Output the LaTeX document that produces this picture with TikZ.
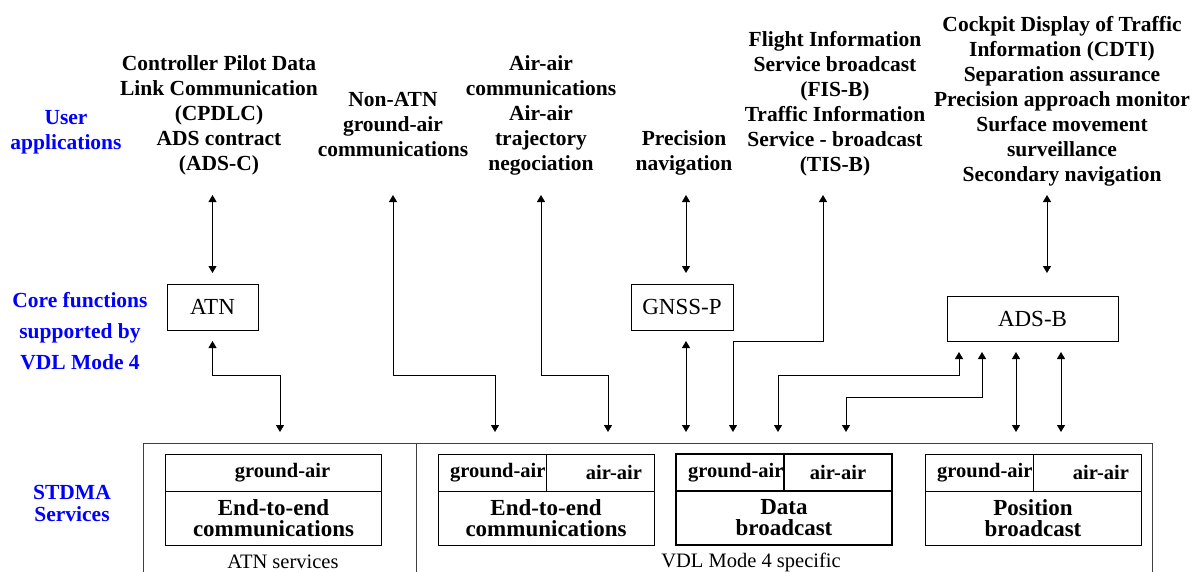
\documentclass[tikz,border=0pt]{standalone}
\usepackage{fontspec}
\setmainfont{Liberation Serif}
\usetikzlibrary{arrows.meta}
\tikzset{
  lbl/.style={align=center,inner sep=0pt,text=blue,font=\fontsize{21.5}{25}\selectfont\bfseries},
  app/.style={align=center,inner sep=0pt,font=\fontsize{21.5}{25}\selectfont\bfseries},
  core/.style={draw,line width=1pt,inner sep=0pt,outer sep=0pt,font=\fontsize{23}{26}\selectfont},
  hcell/.style={draw,line width=1pt,minimum width=108pt,minimum height=37pt,inner sep=0pt,outer sep=0pt,font=\fontsize{20.5}{24}\selectfont\bfseries},
  gcell/.style={hcell,text width=107pt,align=right},
  body/.style={draw,line width=1pt,minimum width=216pt,minimum height=54pt,inner sep=0pt,outer sep=0pt,align=center,font=\fontsize{23}{21}\selectfont\bfseries},
  svc/.style={inner sep=0pt,font=\fontsize{20.5}{24}\selectfont},
  link/.style={{Triangle[length=7pt,width=8pt]}-{Triangle[length=7pt,width=8pt]},line width=1pt},
}
\begin{document}
\begin{tikzpicture}[x=1pt,y=-1pt]
\useasboundingbox (0,0) rectangle (1198,572);

% to write layer names
\node [lbl] (userapp) at (66,132.5) {User\\applications};
\node [lbl,font=\fontsize{21.5}{31}\selectfont\bfseries] (corefn) at (80,331) {Core functions\\supported by\\VDL Mode 4};
\node [lbl,font=\fontsize{21.5}{22}\selectfont\bfseries] (stdma) at (72,503) {STDMA\\Services};

%User applications:
\node [app] (cpdlc) at (219,115) {Controller Pilot Data\\Link Communication\\(CPDLC)\\ADS contract\\(ADS-C)};
\node [app] (nonatn) at (393,125) {Non-ATN\\ground-air\\communications};
\node [app] (airair) at (541,115) {Air-air\\communications\\Air-air\\trajectory\\negociation};
\node [app] (precnav) at (684,153) {Precision\\navigation};
\node [app] (fisb) at (835,104) {Flight Information\\Service broadcast\\(FIS-B)\\Traffic Information\\Service - broadcast\\(TIS-B)};
\node [app] (cdti) at (1062,101.5) {Cockpit Display of Traffic\\Information (CDTI)\\Separation assurance\\Precision approach monitor\\Surface movement\\surveillance\\Secondary navigation};

%Core functions:
\node [core,minimum width=91pt,minimum height=46pt] (atn) at (212.5,307) {ATN};
\node [core,minimum width=102pt,minimum height=46pt] (gnss) at (682,307) {GNSS-P};
\node [core,minimum width=171pt,minimum height=45pt] (adsb) at (1032.5,318.5) {ADS-B};

% to draw the services frame
\draw [line width=0.8pt,black!75] (143,572) |- (1152,443) -- (1152,572);
\draw [line width=0.8pt,black!75] (416,443) -- (416,572);
\node [svc] (atnsvc) at (283,562) {ATN services};
\node [svc] (vdlsvc) at (751,562) {VDL Mode 4 specific};

%STDMA services:
\node [body] (e2eatn) at (273.5,518) {End-to-end\\communications};
\node [hcell,minimum width=216pt,anchor=south] (ga-atn) at (e2eatn.north) {\hspace*{18pt}ground-air};

\node [body] (e2evdl) at (546,518) {End-to-end\\communications};
\node [gcell,anchor=south west] (ga-vdl) at (e2evdl.north west) {ground-air};
\node [hcell,anchor=south east,text width=84pt,align=right] (aa-vdl) at (e2evdl.north east) {air-air};

\node [body,line width=1.6pt] (databc) at (784,518) {Data\\broadcast};
\node [gcell,line width=1.6pt,anchor=south west] (ga-db) at (databc.north west) {ground-air};
\node [hcell,line width=1.6pt,anchor=south east] (aa-db) at (databc.north east) {air-air};

\node [body] (posbc) at (1033,518) {Position\\broadcast};
\node [gcell,anchor=south west] (ga-pb) at (posbc.north west) {ground-air};
\node [hcell,anchor=south east,text width=84pt,align=right] (aa-pb) at (posbc.north east) {air-air};

% free ends of the links
\coordinate (cpdlc-out) at (212.5,195);
\coordinate (nonatn-out) at (393,195);
\coordinate (airair-out) at (541,195);
\coordinate (precnav-out) at (686,195);
\coordinate (fisb-out) at (823,195);
\coordinate (cdti-out) at (1047,195);
\coordinate (p-atn) at (280,443);
\coordinate (p-vdl1) at (495,443);
\coordinate (p-vdl2) at (608,443);
\coordinate (p-db1) at (686,443);
\coordinate (p-db2) at (733,443);
\coordinate (p-db3) at (778,443);
\coordinate (p-db4) at (846,443);
\coordinate (p-pb1) at (1016,443);
\coordinate (p-pb2) at (1061,443);

% to draw links
\draw [link,shorten >=11pt] (cpdlc-out) -- (atn.north);
\draw [link,shorten <=11pt,shorten >=11pt] (atn.south) -- ++(0,45) -| (p-atn);
\draw [link,shorten >=11pt] (nonatn-out) -- ++(0,180) -| (p-vdl1);
\draw [link,shorten >=11pt] (airair-out) -- ++(0,180) -| (p-vdl2);
\draw [link,shorten >=11pt] (precnav-out) -- (precnav-out |- gnss.north);
\draw [link,shorten <=11pt,shorten >=11pt] (gnss.south -| p-db1) -- (p-db1);
\draw [link,shorten >=11pt] (fisb-out) -- ++(0,146) -| (p-db2);
\draw [link,shorten <=11pt,shorten >=11pt] ([xshift=-73.5pt]adsb.south) -- ++(0,34) -| (p-db3);
\draw [link,shorten <=11pt,shorten >=11pt] ([xshift=-50.5pt]adsb.south) -- ++(0,56) -| (p-db4);
\draw [link,shorten <=11pt,shorten >=11pt] (adsb.south -| p-pb1) -- (p-pb1);
\draw [link,shorten <=11pt,shorten >=11pt] (adsb.south -| p-pb2) -- (p-pb2);
\draw [link,shorten >=23pt] (cdti-out) -- (cdti-out |- adsb.north);
\end{tikzpicture}
\end{document}
